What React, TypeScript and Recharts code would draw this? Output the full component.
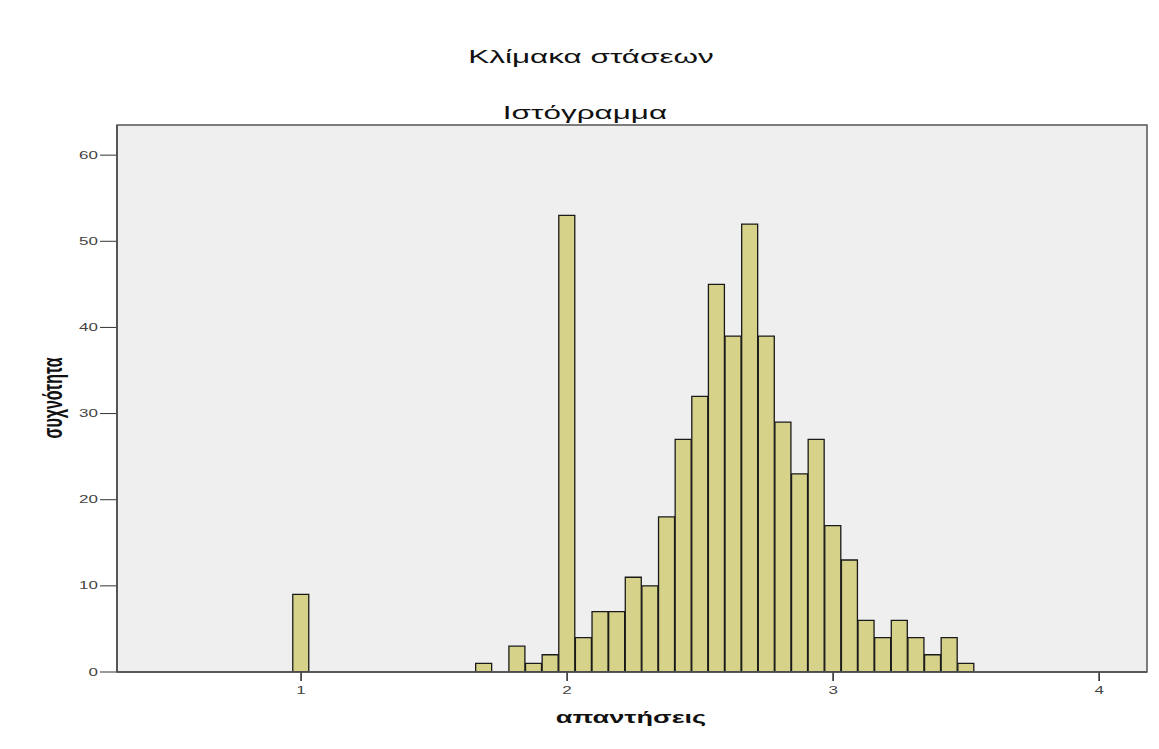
import React from 'react';
import { BarChart, Bar, XAxis, YAxis, CartesianGrid } from 'recharts';

// histogram bins (bin midpoints, width 1/16) and counts
const binMids = [
  1, 1.6875, 1.8125, 1.875, 1.9375, 2, 2.0625, 2.125, 2.1875, 2.25, 2.3125, 2.375, 2.4375, 2.5, 2.5625,
  2.625, 2.6875, 2.75, 2.8125, 2.875, 2.9375, 3, 3.0625, 3.125, 3.1875, 3.25, 3.3125, 3.375, 3.4375, 3.5,
];
const counts = [
  9, 1, 3, 1, 2, 53, 4, 7, 7, 11, 10, 18, 27, 32, 45, 39, 52, 39, 29, 23, 27, 17, 13, 6, 4, 6, 4, 2, 4, 1,
];
const xTicks = [1, 2, 3, 4];
const yTicks = [0, 10, 20, 30, 40, 50, 60];

const title = 'Κλίμακα στάσεων';
const subtitle = 'Ιστόγραμμα';
const xLabel = 'απαντήσεις';
const yLabel = 'συχνότητα';

const W = 1159;
const H = 749;
const PLOT = { left: 117, top: 125, right: 1147, bottom: 672 };
const X_DOMAIN: [number, number] = [0.308, 4.18];
const STRETCH = 1.7; // the source picture is stretched horizontally
const FONT = '"Liberation Sans", Arial, sans-serif';

const data = binMids.map((x, i) => ({ x, count: counts[i] }));

const pxPerUnit = (PLOT.right - PLOT.left) / (X_DOMAIN[1] - X_DOMAIN[0]);
const barPx = Math.floor(pxPerUnit / 16);

const YTick = (props: any) => {
  const { x, y, payload } = props;
  return (
    <g transform={`translate(${x},${y})`}>
      <text
        x={0}
        y={0}
        dy="0.35em"
        textAnchor="end"
        fontSize={10}
        fontFamily={FONT}
        fill="#444"
        transform={`scale(${STRETCH},1)`}
      >
        {payload.value}
      </text>
    </g>
  );
};

const XTick = (props: any) => {
  const { x, y, payload } = props;
  return (
    <g transform={`translate(${x},${y})`}>
      <text
        x={0}
        y={0}
        dy="0.75em"
        textAnchor="middle"
        fontSize={10}
        fontFamily={FONT}
        fill="#444"
        transform={`scale(${STRETCH},1)`}
      >
        {payload.value}
      </text>
    </g>
  );
};

export default function App() {
  return (
    <div style={{ position: 'absolute', left: 0, top: 0, width: W, height: H, background: '#fff' }}>
      <BarChart
        width={W}
        height={H}
        data={data}
        margin={{ top: PLOT.top, right: W - PLOT.right, left: 0, bottom: H - PLOT.bottom - 40 }}
      >
        <CartesianGrid horizontal={false} vertical={false} fill="#efefef" />
        <XAxis
          dataKey="x"
          type="number"
          domain={X_DOMAIN}
          allowDataOverflow
          ticks={xTicks}
          height={40}
          tickSize={9}
          tickMargin={5}
          tick={<XTick />}
          axisLine={{ stroke: '#333', strokeWidth: 1.5 }}
          tickLine={{ stroke: '#222', strokeWidth: 1.5 }}
        />
        <YAxis
          type="number"
          domain={[0, 63.5]}
          allowDataOverflow
          ticks={yTicks}
          width={PLOT.left}
          tickSize={17}
          tickMargin={2}
          tick={<YTick />}
          axisLine={{ stroke: '#222', strokeWidth: 1.5 }}
          tickLine={{ stroke: '#333', strokeWidth: 1 }}
        />
        <Bar
          dataKey="count"
          barSize={barPx}
          fill="#d6d28a"
          stroke="#1a1a1a"
          strokeWidth={1.3}
          isAnimationActive={false}
        />
      </BarChart>
      <svg
        width={W}
        height={H}
        style={{ position: 'absolute', left: 0, top: 0, pointerEvents: 'none' }}
      >
        <rect
          x={PLOT.left}
          y={PLOT.top}
          width={PLOT.right - PLOT.left}
          height={PLOT.bottom - PLOT.top}
          fill="none"
          stroke="#555"
          strokeWidth={1.5}
        />
        <g transform={`translate(591,57) scale(${STRETCH},1)`}>
          <text textAnchor="middle" dy="0.35em" fontSize={18.5} fontFamily={FONT} fill="#111">
            {title}
          </text>
        </g>
        <g transform={`translate(585,113) scale(${STRETCH},1)`}>
          <text textAnchor="middle" dy="0.35em" fontSize={18.5} fontFamily={FONT} fill="#111">
            {subtitle}
          </text>
        </g>
        <g transform={`translate(631,717) scale(${STRETCH},1)`}>
          <text textAnchor="middle" dy="0.35em" fontSize={16} fontWeight="bold" fontFamily={FONT} fill="#111">
            {xLabel}
          </text>
        </g>
        <g transform={`translate(52,398) scale(${STRETCH},1) rotate(-90)`}>
          <text textAnchor="middle" dy="0.35em" fontSize={16} fontWeight="bold" fontFamily={FONT} fill="#111">
            {yLabel}
          </text>
        </g>
      </svg>
    </div>
  );
}
